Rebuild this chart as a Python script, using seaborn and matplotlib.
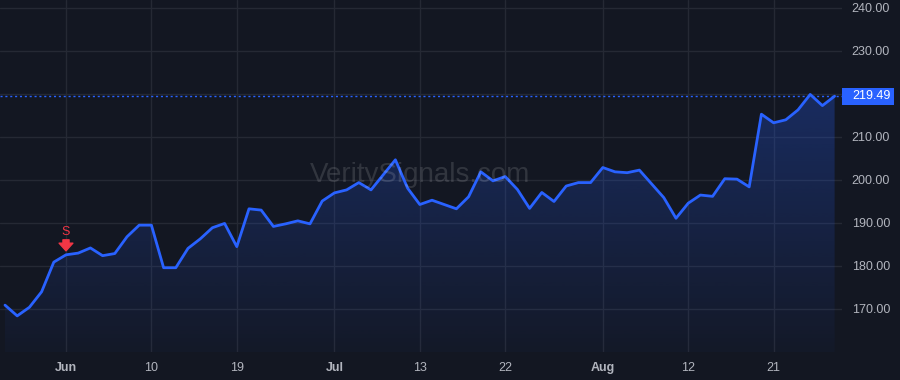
import numpy as np
import pandas as pd
import matplotlib
matplotlib.use("Agg")
import matplotlib.pyplot as plt
import seaborn as sns
from matplotlib.transforms import offset_copy, blended_transform_factory
from matplotlib.path import Path
from matplotlib.patches import PathPatch, Rectangle

# ---------------- data ----------------
prices = [170.9, 168.4, 170.4, 174.0, 180.9, 182.6, 183.0, 184.2, 182.4, 182.9,
          186.8, 189.5, 189.5, 179.6, 179.6, 184.1, 186.3, 188.9, 189.9, 184.5,
          193.3, 193.0, 189.2, 189.8, 190.5, 189.8, 195.1, 197.0, 197.7, 199.4,
          197.7, 201.2, 204.7, 198.1, 194.3, 195.3, 194.3, 193.3, 196.1, 201.9,
          199.8, 200.8, 197.8, 193.4, 197.1, 195.0, 198.6, 199.4, 199.4, 202.9,
          201.9, 201.7, 202.3, 199.1, 195.9, 191.1, 194.6, 196.5, 196.2, 200.3,
          200.2, 198.4, 215.3, 213.3, 214.0, 216.3, 219.9, 217.3, 219.49]
tick_index = [5, 12, 19, 27, 34, 41, 49, 56, 63]
tick_labels = ["Jun", "10", "19", "Jul", "13", "22", "Aug", "12", "21"]
month_labels = ["Jun", "Jul", "Aug"]
price_ticks = [170, 180, 190, 200, 210, 220, 230, 240]
last_price = 219.49
signal_index = 5
signal_label = "S"
watermark = "VeritySignals.com"

df = pd.DataFrame({"i": np.arange(len(prices)), "price": prices})

# ---------------- style ----------------
BG = "#131722"
GRID = "#252934"
TXT = "#b2b5be"
BLUE = "#2962ff"
RED = "#f23645"

sns.set_theme(style="dark")
plt.rcParams["font.family"] = ["Liberation Sans", "DejaVu Sans"]

fig = plt.figure(figsize=(9, 3.8), dpi=100, facecolor=BG)
W, H = 900, 380
ax = fig.add_axes([0, 28 / H, 842 / W, 352 / H])
ax.set_facecolor(BG)

step = 12.2
ax.set_xlim(-5 / step, (842 - 5) / step)
ax.set_ylim(160.0, 241.86)

# gradient fill under the line
x = df["i"].to_numpy()
y = df["price"].to_numpy()
verts = [(x[0], 160.0)] + list(zip(x, y)) + [(x[-1], 160.0)]
clip = PathPatch(Path(verts), facecolor="none", edgecolor="none")
ax.add_patch(clip)
grad = np.linspace(0, 1, 256).reshape(-1, 1)
cmap = matplotlib.colors.LinearSegmentedColormap.from_list(
    "g", [(0, (41/255, 98/255, 255/255, 0.28)), (1, (41/255, 98/255, 255/255, 0.03))])
im = ax.imshow(grad, cmap=cmap, aspect="auto", origin="upper",
               extent=(x[0], x[-1], 160.0, max(y)), zorder=1)
im.set_clip_path(clip)

sns.lineplot(data=df, x="i", y="price", ax=ax, color=BLUE, linewidth=2.0, zorder=3)

# grid
ax.set_xticks(tick_index)
ax.set_yticks(price_ticks)
ax.grid(True, color=GRID, linewidth=1.0)
ax.set_axisbelow(True)
for s in ax.spines.values():
    s.set_visible(False)

ax.set_xlabel("")
ax.set_ylabel("")
ax.yaxis.tick_right()
# the tick label nearest the last price is covered by the price label
ax.set_yticklabels(["" if abs(v - last_price) < 3 else f"{v:.2f}" for v in price_ticks])
ax.set_xticklabels(tick_labels)
ax.tick_params(axis="y", length=0, pad=7, labelsize=9, labelcolor=TXT)
ax.tick_params(axis="x", length=0, pad=7, labelsize=9, labelcolor=TXT)
for lab in ax.get_xticklabels():
    if lab.get_text() in month_labels:
        lab.set_fontweight("bold")

# last price line and label
ax.axhline(last_price, color=BLUE, linewidth=1.0, linestyle=(0, (1.5, 2)), zorder=2)
bt = blended_transform_factory(ax.transAxes, ax.transData)
px_per_unit = ax.bbox.height / (ax.get_ylim()[1] - ax.get_ylim()[0])
box_h = 17 / px_per_unit
box_w = 52 / ax.bbox.width
ax.add_patch(Rectangle((1.0, last_price - box_h / 2), box_w, box_h, transform=bt,
                       facecolor=BLUE, edgecolor="none", clip_on=False, zorder=5))
lbl_t = offset_copy(bt, fig=fig, x=10, y=0, units="dots")
ax.text(1.0, last_price, f"{last_price:.2f}", transform=lbl_t, ha="left", va="center",
        color="white", fontsize=9, zorder=6, clip_on=False)

# watermark
ax.text(0.499, 0.503, watermark, transform=ax.transAxes, ha="center", va="center",
        fontsize=20, color="#ffffff", alpha=0.13, zorder=4)

# signal marker
sv = prices[signal_index]
tip = offset_copy(ax.transData, fig=fig, x=0, y=4, units="dots")
tail = offset_copy(ax.transData, fig=fig, x=0, y=15, units="dots")
ax.annotate("", xy=(signal_index, sv), xycoords=tip, xytext=(signal_index, sv),
            textcoords=tail,
            arrowprops=dict(arrowstyle="simple,head_length=0.5,head_width=0.9,tail_width=0.4",
                            color=RED, shrinkA=0, shrinkB=0, mutation_scale=11), zorder=6)
stxt = offset_copy(ax.transData, fig=fig, x=0, y=23, units="dots")
ax.text(signal_index, sv, signal_label, transform=stxt, ha="center", va="center",
        color=RED, fontsize=9, zorder=6)

fig.savefig("out.png", dpi=100, facecolor=BG)
